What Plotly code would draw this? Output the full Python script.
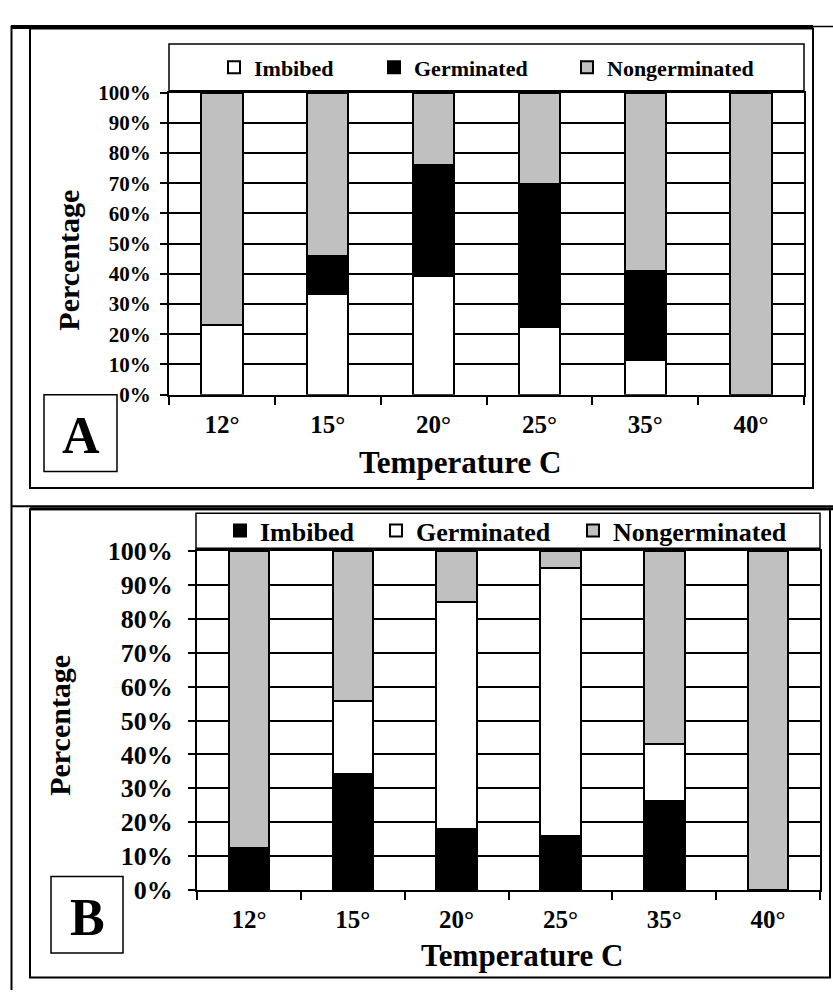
import plotly.graph_objects as go

W, H = 833, 1005

temps = ["12°", "15°", "20°", "25°", "35°", "40°"]
pct_ticks = list(range(0, 101, 10))
pct_labels = [f"{v}%" for v in pct_ticks]

# Panel A (Imbibed = white, Germinated = black, Nongerminated = grey)
a_imbibed = [23.0, 33.4, 39.3, 22.4, 11.4, 0.0]
a_germinated = [0.0, 12.6, 36.8, 47.5, 29.6, 0.0]
a_nongerminated = [77.0, 54.0, 23.9, 30.1, 59.0, 100.0]

# Panel B (Imbibed = black, Germinated = white, Nongerminated = grey)
b_imbibed = [12.3, 34.3, 18.1, 16.0, 26.2, 0.0]
b_germinated = [0.0, 21.6, 66.9, 79.0, 16.8, 0.0]
b_nongerminated = [87.7, 44.1, 15.0, 5.0, 57.0, 100.0]

series_names = ["Imbibed", "Germinated", "Nongerminated"]
a_colors = ["#FFFFFF", "#000000", "#C0C0C0"]
b_colors = ["#000000", "#FFFFFF", "#C0C0C0"]

FONT = "Liberation Serif, Times New Roman, serif"


def px(x):
    return x / W


def py(y):
    return 1 - y / H


fig = go.Figure()

a_legends = ["legend", "legend2", "legend3"]
b_legends = ["legend4", "legend5", "legend6"]

for name, vals, col, lg in zip(series_names, [a_imbibed, a_germinated, a_nongerminated], a_colors, a_legends):
    fig.add_trace(go.Bar(
        x=temps, y=vals, name=name, xaxis="x", yaxis="y", legend=lg,
        marker=dict(color=col, line=dict(color="#000000", width=2)),
    ))

for name, vals, col, lg in zip(series_names, [b_imbibed, b_germinated, b_nongerminated], b_colors, b_legends):
    fig.add_trace(go.Bar(
        x=temps, y=vals, name=name, xaxis="x2", yaxis="y2", legend=lg,
        marker=dict(color=col, line=dict(color="#000000", width=2)),
    ))


def xaxis_cfg(domain, anchor, size):
    return dict(
        domain=domain, anchor=anchor, type="category", tickson="boundaries",
        ticks="outside", ticklen=8, tickwidth=1.5, tickcolor="#000000",
        showgrid=False, showline=True, linecolor="#000000", linewidth=2,
        mirror=True, ticklabelstandoff=6,
        tickfont=dict(family=FONT, size=size, color="#000000", weight="bold"),
        fixedrange=True,
    )


def yaxis_cfg(domain, anchor, size, standoff):
    return dict(
        domain=domain, anchor=anchor, range=[0, 100], tickmode="array",
        tickvals=pct_ticks, ticktext=pct_labels,
        ticks="outside", ticklen=7, tickwidth=1.5, tickcolor="#000000",
        showgrid=True, gridcolor="#000000", gridwidth=1.5,
        zeroline=False, showline=True, linecolor="#000000", linewidth=2,
        mirror=True, ticklabelstandoff=standoff,
        tickfont=dict(family=FONT, size=size, color="#000000", weight="bold"),
        fixedrange=True,
    )


shapes = []


def line(x0, y0, x1, y1, w):
    shapes.append(dict(type="line", xref="paper", yref="paper",
                       x0=px(x0), y0=py(y0), x1=px(x1), y1=py(y1),
                       line=dict(color="#000000", width=w)))


def rect(x0, y0, x1, y1, w):
    shapes.append(dict(type="rect", xref="paper", yref="paper",
                       x0=px(x0), y0=py(y0), x1=px(x1), y1=py(y1),
                       line=dict(color="#000000", width=w), layer="above"))


# page / cell borders
line(11.5, 12, 11.5, 1005, 2)
line(11, 13, 833, 13, 1.5)
line(11, 13.5, 813, 13.5, 4)
rect(30, 15, 813, 488, 2)
line(11, 507, 833, 507, 2)
rect(30, 510, 830, 992, 2)
line(30, 509.5, 833, 509.5, 3)
# legend boxes
rect(169, 31, 804, 79, 1.5)
rect(196, 514, 820, 550, 1.5)
# panel letter boxes
rect(44, 392, 117, 471, 1.5)
rect(51, 888, 123, 967, 1.5)

annotations = []


def text(t, x, y, size, angle=0):
    annotations.append(dict(
        text=t, x=px(x), y=py(y), xref="paper", yref="paper",
        xanchor="center", yanchor="middle", showarrow=False, textangle=angle,
        font=dict(family=FONT, size=size, color="#000000", weight="bold"),
    ))


text("Temperature C", 460, 462, 31)
text("Temperature C", 522, 969, 31)
text("Percentage", 69, 254, 30, -90)
text("Percentage", 60, 733, 30, -90)
text("A", 81, 434, 52)
text("B", 87, 930, 52)


def legend_cfg(x, y, size):
    return dict(
        orientation="h", xref="paper", yref="paper",
        x=px(x), y=py(y), xanchor="left", yanchor="middle",
        bgcolor="rgba(0,0,0,0)", borderwidth=0, itemwidth=30,
        font=dict(family=FONT, size=size, color="#000000", weight="bold"),
    )


fig.update_layout(
    width=W, height=H, margin=dict(l=0, r=0, t=0, b=0),
    paper_bgcolor="#FFFFFF", plot_bgcolor="#FFFFFF",
    font=dict(family=FONT, color="#000000"),
    barmode="stack", bargap=0.61,
    xaxis=xaxis_cfg([px(169), px(804)], "y", 25),
    yaxis=yaxis_cfg([py(392), py(81)], "x", 21, 5),
    xaxis2=xaxis_cfg([px(197), px(820)], "y2", 25),
    yaxis2=yaxis_cfg([py(902), py(553)], "x2", 26, 10),
    legend=legend_cfg(214, 55, 22),
    legend2=legend_cfg(374, 55, 22),
    legend3=legend_cfg(567, 55, 22),
    legend4=legend_cfg(220, 532, 26),
    legend5=legend_cfg(376, 532, 26),
    legend6=legend_cfg(573, 532, 26),
    shapes=shapes,
    annotations=annotations,
    showlegend=True,
)

fig.write_html("out.html")
